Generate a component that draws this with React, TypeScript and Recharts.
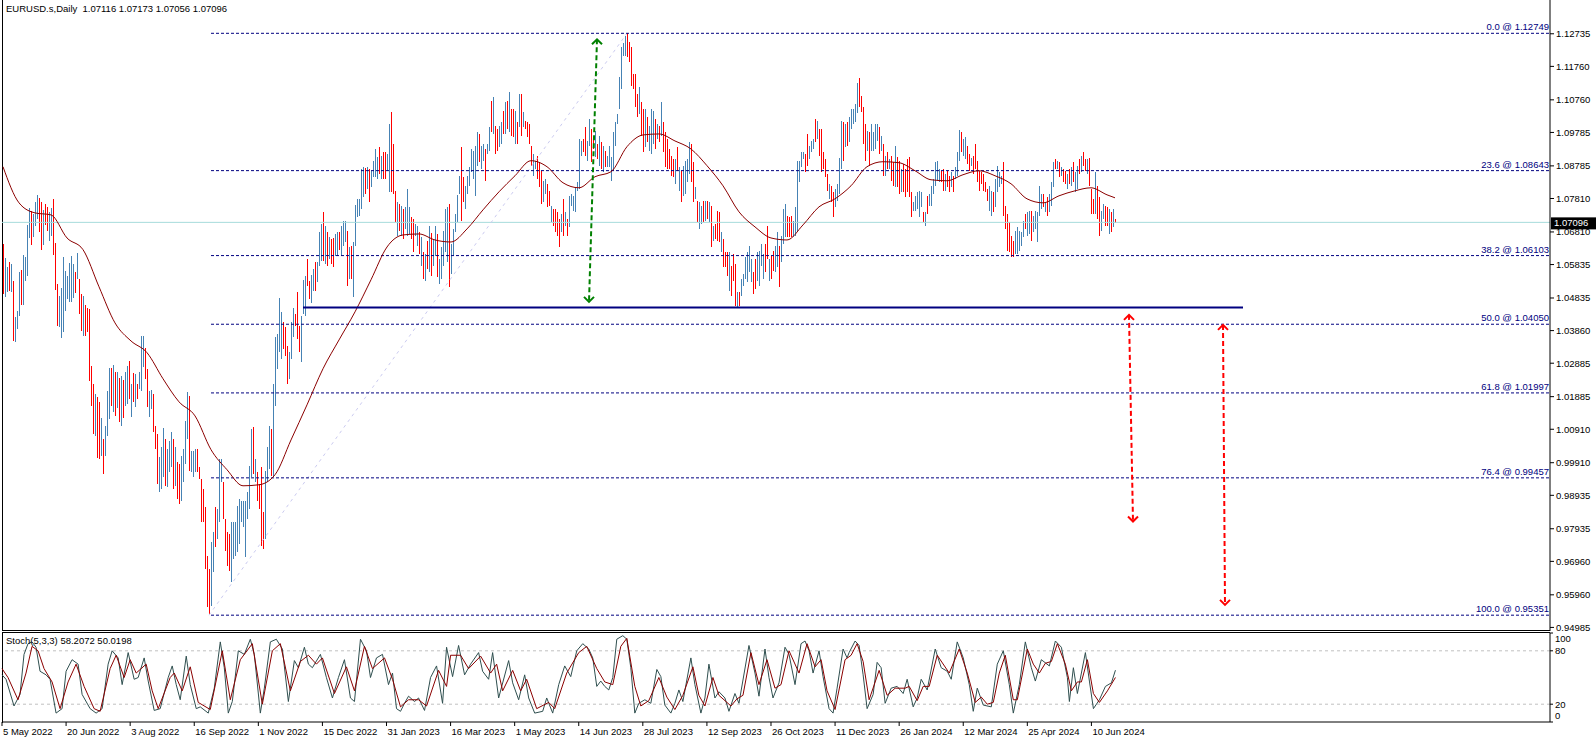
import { ComposedChart, Bar, Line, XAxis, YAxis, ReferenceLine, ReferenceDot } from 'recharts';

// price bars, in pips (price * 10000), one per trading day from 5 May 2022
const highPips = [
  10642, 10601, 10574, 10589, 10583, 10532, 10424, 10442, 10559, 10565,
  10610, 10604, 10699, 10750, 10741, 10732, 10768, 10789, 10780, 10768,
  10744, 10762, 10753, 10738, 10750, 10777, 10645, 10523, 10487, 10511,
  10604, 10562, 10547, 10586, 10607, 10583, 10559, 10616, 10538, 10493,
  10487, 10460, 10451, 10448, 10278, 10224, 10194, 10185, 10170, 10122,
  10059, 10098, 10203, 10272, 10272, 10281, 10260, 10260, 10242, 10248,
  10236, 10260, 10278, 10293, 10224, 10257, 10254, 10224, 10260, 10367,
  10367, 10331, 10269, 10203, 10206, 10194, 10098, 10074, 10006, 10035,
  10092, 10059, 10030, 10053, 10080, 10059, 10035, 9991, 9985, 10009,
  10030, 10113, 10200, 10188, 10024, 10024, 10030, 10030, 9976, 9940,
  9910, 9856, 9710, 9671, 9752, 9782, 9856, 9850, 10000, 10000,
  9931, 9820, 9782, 9776, 9811, 9811, 9811, 9859, 9880, 9874,
  9874, 9874, 9901, 9979, 10089, 10095, 10000, 9961, 9925, 9976,
  9841, 9964, 10035, 10098, 10089, 10224, 10364, 10373, 10481, 10439,
  10409, 10394, 10338, 10320, 10409, 10451, 10433, 10499, 10397, 10427,
  10535, 10547, 10598, 10532, 10550, 10568, 10589, 10589, 10678, 10702,
  10738, 10696, 10678, 10663, 10657, 10660, 10672, 10678, 10678, 10696,
  10711, 10711, 10681, 10633, 10636, 10648, 10759, 10777, 10777, 10867,
  10873, 10870, 10873, 10867, 10861, 10891, 10927, 10903, 10933, 10906,
  10918, 10918, 10912, 11001, 11037, 10941, 10801, 10768, 10762, 10756,
  10747, 10753, 10807, 10753, 10723, 10717, 10702, 10696, 10678, 10663,
  10619, 10613, 10651, 10696, 10675, 10657, 10696, 10672, 10598, 10633,
  10681, 10747, 10753, 10762, 10642, 10687, 10732, 10789, 10846, 10933,
  10843, 10816, 10846, 10873, 10927, 10921, 10936, 10979, 10972, 10936,
  10942, 10927, 10942, 10992, 11070, 11082, 10995, 10986, 10995, 11007,
  11040, 11067, 11070, 11097, 11046, 11046, 11040, 11007, 11091, 11091,
  11037, 11010, 11007, 11001, 10936, 10912, 10891, 10906, 10888, 10861,
  10831, 10837, 10822, 10801, 10756, 10747, 10747, 10738, 10717, 10732,
  10777, 10738, 10717, 10786, 10792, 10786, 10813, 10828, 10956, 10950,
  10956, 10992, 10950, 11016, 10986, 10956, 10980, 10942, 10966, 10948,
  10936, 10921, 10906, 10936, 10903, 10977, 11007, 11031, 11142, 11231,
  11243, 11264, 11275, 11246, 11231, 11151, 11151, 11091, 11112, 11067,
  11046, 11046, 11022, 10995, 11046, 11040, 11016, 11001, 10995, 11067,
  11007, 10977, 10956, 10927, 10906, 10897, 10897, 10933, 10873, 10861,
  10876, 10891, 10897, 10948, 10942, 10888, 10813, 10771, 10768, 10756,
  10771, 10771, 10771, 10768, 10756, 10696, 10702, 10741, 10738, 10678,
  10657, 10619, 10619, 10619, 10577, 10613, 10583, 10499, 10499, 10538,
  10553, 10604, 10619, 10636, 10598, 10559, 10598, 10619, 10622, 10642,
  10613, 10642, 10696, 10598, 10607, 10622, 10636, 10678, 10636, 10666,
  10747, 10762, 10726, 10723, 10726, 10711, 10753, 10891, 10891, 10918,
  10918, 10912, 10972, 10936, 10950, 10956, 11016, 11010, 10986, 10986,
  10918, 10897, 10852, 10822, 10816, 10798, 10807, 10822, 10900, 11010,
  11007, 11001, 11007, 11022, 11046, 11046, 11061, 11126, 11141, 11085,
  11052, 11001, 10980, 10977, 11001, 10977, 11001, 11001, 10992, 10966,
  10942, 10906, 10918, 10897, 10906, 10888, 10936, 10903, 10891, 10867,
  10882, 10867, 10897, 10903, 10798, 10768, 10786, 10798, 10801, 10798,
  10738, 10738, 10786, 10792, 10816, 10837, 10888, 10891, 10867, 10861,
  10867, 10852, 10861, 10846, 10858, 10846, 10873, 10918, 10983, 10977,
  10956, 10962, 10936, 10912, 10900, 10906, 10942, 10891, 10861, 10858,
  10852, 10828, 10807, 10816, 10801, 10798, 10837, 10876, 10858, 10846,
  10888, 10756, 10732, 10708, 10666, 10651, 10681, 10693, 10681, 10678,
  10711, 10732, 10738, 10741, 10741, 10726, 10741, 10738, 10816, 10792,
  10792, 10768, 10783, 10792, 10828, 10888, 10897, 10891, 10888, 10873,
  10867, 10861, 10852, 10867, 10873, 10888, 10858, 10876, 10897, 10906,
  10918, 10897, 10897, 10900, 10807, 10777, 10858, 10816, 10783, 10741,
  10762, 10756, 10753, 10747, 10738, 10747, 10717,
];

const lowPips = [
  10493, 10484, 10499, 10502, 10499, 10352, 10349, 10388, 10427, 10460,
  10460, 10532, 10547, 10660, 10640, 10663, 10696, 10717, 10678, 10625,
  10640, 10699, 10681, 10651, 10666, 10610, 10505, 10397, 10394, 10361,
  10379, 10442, 10478, 10469, 10469, 10481, 10496, 10538, 10433, 10382,
  10367, 10367, 10379, 10233, 10158, 10074, 10068, 10003, 10000, 10009,
  9955, 10009, 10068, 10119, 10158, 10140, 10128, 10152, 10110, 10098,
  10122, 10158, 10164, 10179, 10125, 10170, 10155, 10179, 10209, 10203,
  10275, 10239, 10155, 10125, 10149, 10080, 10030, 9925, 9901, 9910,
  9946, 9919, 9916, 9961, 9976, 9910, 9919, 9880, 9865, 9874,
  9931, 9985, 10059, 9964, 9961, 9946, 9961, 9961, 9940, 9811,
  9811, 9671, 9557, 9535, 9560, 9662, 9737, 9760, 9811, 9931,
  9820, 9725, 9680, 9665, 9632, 9701, 9710, 9722, 9746, 9811,
  9796, 9707, 9820, 9850, 9946, 9955, 9931, 9874, 9850, 9740,
  9731, 9760, 9931, 9970, 9949, 9949, 10158, 10269, 10320, 10299,
  10329, 10308, 10224, 10239, 10299, 10364, 10397, 10358, 10320, 10290,
  10433, 10427, 10517, 10478, 10466, 10502, 10502, 10529, 10577, 10592,
  10592, 10583, 10577, 10598, 10583, 10574, 10607, 10607, 10625, 10607,
  10636, 10648, 10517, 10538, 10538, 10484, 10636, 10723, 10726, 10747,
  10783, 10792, 10807, 10768, 10813, 10843, 10843, 10837, 10852, 10837,
  10837, 10837, 10861, 10797, 10797, 10792, 10708, 10666, 10681, 10666,
  10657, 10687, 10666, 10672, 10657, 10619, 10666, 10636, 10613, 10577,
  10538, 10532, 10568, 10559, 10547, 10577, 10607, 10544, 10523, 10538,
  10577, 10619, 10589, 10514, 10553, 10607, 10678, 10708, 10792, 10711,
  10768, 10747, 10792, 10816, 10858, 10837, 10786, 10876, 10888, 10867,
  10891, 10831, 10912, 10921, 10977, 10972, 10912, 10921, 10933, 10942,
  10972, 10972, 10986, 10977, 10966, 10963, 10942, 10942, 10992, 10966,
  10992, 10986, 10963, 10942, 10876, 10846, 10867, 10837, 10813, 10762,
  10768, 10792, 10753, 10756, 10708, 10696, 10678, 10666, 10633, 10678,
  10666, 10696, 10666, 10693, 10756, 10741, 10738, 10801, 10807, 10906,
  10918, 10906, 10891, 10936, 10888, 10927, 10903, 10897, 10876, 10867,
  10858, 10873, 10873, 10873, 10831, 10861, 10936, 11001, 11046, 11106,
  11204, 11204, 11204, 11186, 11115, 11106, 11052, 11022, 11031, 10966,
  10918, 10933, 10948, 10921, 10912, 10942, 10927, 10956, 10948, 10966,
  10918, 10873, 10867, 10867, 10846, 10843, 10822, 10861, 10801, 10768,
  10786, 10792, 10828, 10852, 10828, 10768, 10777, 10708, 10687, 10702,
  10708, 10711, 10717, 10708, 10633, 10651, 10657, 10651, 10648, 10619,
  10574, 10574, 10547, 10502, 10487, 10532, 10457, 10451, 10457, 10487,
  10517, 10538, 10529, 10559, 10529, 10493, 10508, 10532, 10517, 10577,
  10538, 10559, 10598, 10532, 10538, 10562, 10559, 10574, 10514, 10589,
  10642, 10663, 10663, 10663, 10663, 10663, 10666, 10681, 10828, 10873,
  10897, 10858, 10876, 10897, 10918, 10927, 10948, 10956, 10906, 10858,
  10867, 10843, 10801, 10777, 10768, 10723, 10753, 10771, 10792, 10867,
  10891, 10933, 10936, 10948, 10986, 11001, 11007, 11037, 11055, 11037,
  10942, 10891, 10921, 10876, 10921, 10921, 10927, 10950, 10912, 10921,
  10846, 10846, 10867, 10867, 10831, 10816, 10813, 10813, 10792, 10798,
  10798, 10783, 10798, 10783, 10723, 10741, 10741, 10747, 10723, 10753,
  10708, 10696, 10732, 10756, 10756, 10792, 10816, 10831, 10828, 10828,
  10801, 10801, 10813, 10798, 10813, 10798, 10837, 10846, 10891, 10918,
  10906, 10897, 10882, 10861, 10876, 10852, 10867, 10828, 10801, 10822,
  10801, 10798, 10771, 10741, 10726, 10738, 10753, 10798, 10813, 10822,
  10726, 10687, 10622, 10619, 10604, 10604, 10613, 10613, 10622, 10636,
  10663, 10687, 10666, 10672, 10651, 10678, 10687, 10648, 10726, 10747,
  10753, 10738, 10726, 10738, 10756, 10813, 10867, 10867, 10843, 10846,
  10828, 10822, 10807, 10822, 10816, 10828, 10798, 10807, 10852, 10858,
  10876, 10861, 10852, 10816, 10732, 10732, 10732, 10717, 10666, 10681,
  10717, 10696, 10696, 10672, 10678, 10693, 10706,
];

// u = up bar (blue), d = down bar (red)
const barDir = `
  d u u d u d u u u d   u u u u d u u u d d   u d d u u d d d u u   u u u u u u d u d d
  u d d d d d u d d u   d u u u d u d u d u   d u u d u d u d u u   u d d u u d d d u u
  u d u u u d u d d u   u u u d u u u d d d   d d d d u u d u u u   d d d d u u u u u u
  u u u u u d u d d d   d u u u d u u u u u   d d d u u u d d d u   u u d d u u d u u u
  d u d u d d u u d u   u u d u d u u u u u   u d u d u u u u d u   d d u u d d d u d u
  d u u u d d u u d u   d u d u d u u d u u   u u u d u u u u u d   d u u u u u u u d u
  u d u u d u d d u u   d u d u d d u d u d   u d d d d u u d d d   u u d d u d d d d u
  d u d u u u u u u u   d d u u d d u d u d   u d u u u u u u u u   u u d d d d d d u d
  d u d u u u d u d u   d d d d d d u d u d   u u u u d d u d u u   d u d u d u d d d u
  d d d u d d d u d u   u u u u u d d u u u   u d d u d d u u d u   u u d d d u u u u u
  u d d u u u d u d d   d d d u d d u u u u   d u d u u u u u d d   d d u d u u u u d u
  d u d u d d u d d u   d d d d d u u u u u   d u d u u u u u u d   d u d d u d u u u d
  u u d d u d d d d d   d d d u u d u u u u   d d d d d d u u u u   u d u u d u u u u u
  d u d u u u d u d u   d d u d u d u u d u   d d u d d d u d d u   u d d u d u d
`.replace(/\s/g, '');

// 34-day moving average, read every 8 bars
const maPoints = [
  [0, 10876], [8, 10768], [16, 10738], [24, 10732], [32, 10663], [40, 10628], [48, 10517], [56, 10409],
  [64, 10355], [72, 10320], [80, 10242], [88, 10173], [96, 10131], [104, 10030], [112, 9970], [120, 9922],
  [128, 9925], [136, 9955], [144, 10059], [152, 10164], [160, 10272], [168, 10358], [176, 10442], [184, 10538],
  [192, 10636], [200, 10672], [208, 10675], [216, 10657], [224, 10651], [232, 10690], [240, 10747], [248, 10801],
  [256, 10849], [264, 10894], [272, 10876], [280, 10828], [288, 10813], [296, 10846], [304, 10861], [312, 10936],
  [320, 10971], [328, 10974], [336, 10953], [344, 10929], [352, 10879], [360, 10819], [368, 10741], [376, 10696],
  [384, 10663], [392, 10657], [400, 10702], [408, 10756], [416, 10780], [424, 10819], [432, 10876], [440, 10891],
  [448, 10888], [456, 10864], [464, 10837], [472, 10834], [480, 10852], [488, 10864], [496, 10849], [504, 10825],
  [512, 10780], [520, 10768], [528, 10789], [536, 10804], [544, 10813], [552, 10792], [556, 10783],
];

// Stoch(5,3,3) main line, turning points [bar, value]
const stochMain = [
  [0, 53], [2, 48], [6, 18], [9, 31], [11, 76], [13, 88], [15, 90], [17, 84], [19, 57], [22, 53], [24, 48],
  [27, 10], [30, 15], [32, 57], [35, 70], [38, 65], [40, 31], [44, 15], [47, 10], [50, 15], [53, 65], [55, 80],
  [58, 72], [60, 42], [63, 78], [66, 48], [68, 50], [71, 72], [73, 46], [76, 13], [79, 15], [83, 50], [85, 63],
  [87, 42], [89, 25], [92, 74], [94, 42], [97, 15], [99, 17], [103, 10], [106, 38], [109, 90], [111, 61],
  [113, 10], [115, 23], [118, 80], [121, 76], [124, 93], [126, 76], [129, 10], [131, 38], [134, 90], [137, 93],
  [140, 82], [143, 23], [146, 69], [148, 61], [151, 84], [153, 65], [155, 61], [159, 76], [162, 50], [165, 27],
  [168, 50], [171, 70], [174, 27], [176, 23], [179, 93], [182, 80], [184, 50], [187, 72], [190, 76], [193, 42],
  [195, 55], [197, 15], [199, 12], [201, 21], [203, 29], [206, 23], [208, 27], [211, 13], [214, 50], [217, 63],
  [220, 21], [222, 84], [225, 51], [228, 86], [231, 53], [234, 65], [238, 78], [240, 57], [243, 48], [245, 78],
  [248, 27], [253, 69], [255, 44], [258, 25], [261, 53], [263, 27], [266, 10], [270, 12], [272, 27], [275, 10],
  [278, 42], [281, 63], [284, 51], [287, 80], [290, 88], [293, 82], [295, 72], [297, 40], [299, 46], [301, 40],
  [303, 36], [305, 50], [307, 93], [310, 97], [312, 93], [314, 61], [316, 10], [318, 21], [321, 25], [324, 21],
  [327, 59], [329, 51], [331, 19], [334, 10], [336, 21], [338, 36], [340, 23], [344, 72], [346, 42], [349, 10],
  [351, 27], [353, 65], [356, 27], [358, 34], [361, 27], [363, 12], [366, 32], [368, 21], [373, 86], [376, 55],
  [378, 29], [381, 82], [383, 50], [385, 27], [388, 44], [391, 84], [393, 76], [396, 42], [399, 88], [401, 91],
  [403, 80], [405, 55], [408, 80], [410, 51], [413, 15], [415, 10], [417, 38], [420, 82], [422, 72], [423, 78],
  [426, 91], [428, 86], [430, 53], [432, 15], [435, 31], [437, 67], [439, 61], [441, 21], [444, 38], [447, 40],
  [450, 32], [452, 48], [455, 17], [457, 27], [459, 48], [462, 36], [466, 82], [469, 61], [472, 57], [474, 48],
  [477, 90], [480, 72], [483, 42], [485, 12], [487, 38], [490, 19], [494, 17], [497, 65], [500, 80], [503, 42],
  [505, 10], [508, 42], [511, 90], [514, 61], [516, 46], [519, 70], [523, 63], [526, 91], [529, 84], [532, 50],
  [533, 23], [535, 61], [537, 32], [541, 78], [543, 46], [545, 15], [548, 25], [551, 40], [554, 44], [556, 58.2],
];

// signal line, turning points [bar, value]
const stochSignal = [
  [0, 60], [3, 50], [8, 25], [12, 55], [15, 85], [18, 80], [21, 60], [25, 45], [29, 15], [33, 45], [37, 65],
  [41, 40], [46, 15], [49, 12], [54, 60], [57, 75], [61, 50], [64, 70], [67, 55], [72, 65], [75, 35], [78, 15],
  [84, 50], [86, 55], [90, 35], [94, 62], [98, 22], [104, 14], [110, 80], [114, 25], [119, 70], [125, 88],
  [130, 20], [135, 80], [139, 88], [144, 35], [149, 68], [153, 75], [157, 65], [160, 72], [166, 32], [172, 62],
  [176, 35], [181, 85], [185, 60], [191, 72], [195, 48], [199, 17], [203, 25], [208, 25], [212, 18], [218, 58],
  [222, 40], [224, 75], [229, 75], [233, 60], [239, 74], [244, 55], [247, 65], [250, 35], [255, 58], [259, 35],
  [262, 48], [267, 15], [273, 22], [276, 15], [282, 55], [288, 78], [292, 85], [297, 60], [301, 45], [305, 42],
  [309, 85], [312, 94], [316, 40], [319, 18], [323, 24], [328, 50], [332, 28], [336, 14], [340, 30], [345, 62],
  [348, 30], [351, 18], [355, 50], [358, 30], [364, 18], [367, 26], [370, 30], [374, 78], [378, 42], [382, 70],
  [386, 38], [389, 42], [393, 80], [398, 55], [402, 88], [406, 62], [409, 70], [412, 35], [416, 14], [421, 70],
  [424, 75], [427, 88], [430, 68], [433, 25], [438, 58], [442, 30], [446, 38], [451, 38], [453, 40], [457, 24],
  [460, 40], [463, 40], [467, 75], [473, 55], [478, 82], [482, 55], [486, 22], [489, 28], [492, 20], [495, 22],
  [498, 55], [501, 75], [505, 25], [507, 25], [512, 82], [515, 65], [518, 55], [521, 66], [524, 68], [527, 88],
  [531, 65], [534, 35], [537, 45], [539, 45], [542, 70], [545, 32], [548, 22], [552, 35], [556, 50.02],
];

const dateLabels = [
  '5 May 2022', '20 Jun 2022', '3 Aug 2022', '16 Sep 2022', '1 Nov 2022', '15 Dec 2022',
  '31 Jan 2023', '16 Mar 2023', '1 May 2023', '14 Jun 2023', '28 Jul 2023', '12 Sep 2023',
  '26 Oct 2023', '11 Dec 2023', '26 Jan 2024', '12 Mar 2024', '25 Apr 2024', '10 Jun 2024',
];

const priceTicks = [
  1.12735, 1.1176, 1.1076, 1.09785, 1.08785, 1.0781, 1.0681, 1.05835, 1.04835, 1.0386,
  1.02885, 1.01885, 1.0091, 0.9991, 0.98935, 0.97935, 0.9696, 0.9596, 0.94985,
];

const stochTicks = [0, 20, 80, 100];

const fibNames = ['0.0', '23.6', '38.2', '50.0', '61.8', '76.4', '100.0'];
const fibPrices = [1.12749, 1.08643, 1.06103, 1.0405, 1.01997, 0.99457, 0.95351];

const lastPrice = 1.07096;
const supportPrice = 1.0455;

const FONT = '"Liberation Sans", Arial, sans-serif';
const FS = 9.5;
const BLUE = '#4682B4';
const RED = '#FF0000';
const NAVY = '#000080';
const SLOTS = 774; // bars plus empty space to the right
const LABEL_STEP = 32;
const FIB_FROM = 104;

const rows = Array.from({ length: SLOTS }, (_, i) => ({
  i,
  range: i < highPips.length ? [lowPips[i] / 10000, highPips[i] / 10000] : null,
  up: barDir[i] === 'u',
  ma: null as number | null,
  k: null as number | null,
  d: null as number | null,
}));
maPoints.forEach(([i, v]) => { rows[i].ma = v / 10000; });
stochMain.forEach(([i, v]) => { rows[i].k = v; });
stochSignal.forEach(([i, v]) => { rows[i].d = v; });

const labelIdx = dateLabels.map((_, n) => n * LABEL_STEP);

const PriceBar = (props: any) => {
  const { x, y, width, height, payload } = props;
  if (!payload || payload.range == null) return null;
  return (
    <rect
      x={Math.floor(x + width / 2)}
      y={Math.floor(y)}
      width={1}
      height={Math.max(1, Math.round(height))}
      fill={payload.up ? BLUE : RED}
    />
  );
};

const chevron = (color: string, up: boolean) => (p: any) => {
  const dy = up ? 5 : -5;
  return (
    <path
      d={`M${p.cx - 5},${p.cy + dy}L${p.cx},${p.cy}L${p.cx + 5},${p.cy + dy}`}
      stroke={color}
      strokeWidth={2}
      fill="none"
    />
  );
};

const fibLabel = (text: string) => (p: any) => {
  const vb = p.viewBox;
  return (
    <text x={vb.x + vb.width} y={vb.y - 3} textAnchor="end" fontSize={FS} fontFamily={FONT} fill={NAVY}>
      {text}
    </text>
  );
};

const priceTag = (p: any) => {
  const vb = p.viewBox;
  const x = vb.x + vb.width + 1;
  return (
    <g>
      <rect x={x} y={vb.y - 5} width={46} height={12} fill="#000" />
      <text x={x + 3} y={vb.y + 4} fontSize={FS} fontFamily={FONT} fill="#fff">
        {lastPrice.toFixed(5)}
      </text>
    </g>
  );
};

const DateTick = ({ x, y, payload }: any) => (
  <text x={x + 1} y={y} dy="0.71em" textAnchor="start" fontSize={FS} fontFamily={FONT} fill="#000">
    {dateLabels[payload.value / LABEL_STEP]}
  </text>
);

// the stochastic scale keeps its end labels inside the panel
const StochTick = ({ x, y, payload }: any) => (
  <text x={x} y={Math.min(Math.max(y, 7), 84)} dy="0.355em" fontSize={FS} fontFamily={FONT} fill="#000">
    {payload.value}
  </text>
);

const arrows = [
  { color: '#008000', top: [297, 1.1257], bottom: [293, 1.0472] },
  { color: RED, top: [563, 1.0433], bottom: [565, 0.9815] },
  { color: RED, top: [610, 1.0403], bottom: [611, 0.9566] },
];

export default function App() {
  return (
    <div style={{ position: 'absolute', left: 0, top: 0, width: 1596, height: 743, background: '#fff', overflow: 'hidden', fontFamily: FONT }}>
      <div style={{ position: 'absolute', left: 2, top: 0, width: 1548, height: 631, borderLeft: '1px solid #000', borderBottom: '1px solid #000', boxSizing: 'border-box' }} />
      <div style={{ position: 'absolute', left: 2, top: 632, width: 1548, height: 91, borderLeft: '1px solid #000', borderTop: '1px solid #000', boxSizing: 'border-box' }} />

      <div style={{ position: 'absolute', left: 0, top: 0 }}>
        <ComposedChart width={1596} height={638} data={rows} margin={{ top: 0, right: 0, bottom: 7, left: 2 }}>
          <XAxis dataKey="i" type="category" hide />
          <YAxis
            orientation="right"
            width={46}
            domain={[0.94878, 1.13745]}
            allowDataOverflow
            ticks={priceTicks}
            interval={0}
            tickFormatter={(v: number) => v.toFixed(5)}
            tick={{ fontSize: FS, fill: '#000', fontFamily: FONT }}
            tickSize={4}
            tickLine={{ stroke: '#000' }}
            axisLine={{ stroke: '#000' }}
          />
          <ReferenceLine y={lastPrice} stroke="#A6DCDC" label={priceTag} />
          <ReferenceLine segment={[{ x: 103, y: fibPrices[6] }, { x: 312, y: fibPrices[0] }]} stroke="#CBCBF0" strokeDasharray="3 4" />
          {fibPrices.map((p, n) => (
            <ReferenceLine
              key={fibNames[n]}
              segment={[{ x: FIB_FROM, y: p }, { x: SLOTS - 1, y: p }]}
              stroke={NAVY}
              strokeDasharray="3 2"
              label={fibLabel(`${fibNames[n]} @ ${p.toFixed(5)}`)}
            />
          ))}
          <Bar dataKey="range" barSize={1} shape={PriceBar} isAnimationActive={false} />
          <Line dataKey="ma" type="monotone" stroke="#8B0000" strokeWidth={1} dot={false} connectNulls isAnimationActive={false} />
          <ReferenceLine segment={[{ x: 150, y: supportPrice }, { x: 620, y: supportPrice }]} stroke={NAVY} strokeWidth={2} />
          {arrows.map((a, n) => (
            <ReferenceLine
              key={`arrow-${n}`}
              segment={[{ x: a.top[0], y: a.top[1] }, { x: a.bottom[0], y: a.bottom[1] }]}
              stroke={a.color}
              strokeWidth={2}
              strokeDasharray="5 3"
            />
          ))}
          {arrows.map((a, n) => (
            <ReferenceDot key={`head-t-${n}`} x={a.top[0]} y={a.top[1]} r={5} shape={chevron(a.color, true)} />
          ))}
          {arrows.map((a, n) => (
            <ReferenceDot key={`head-b-${n}`} x={a.bottom[0]} y={a.bottom[1]} r={5} shape={chevron(a.color, false)} />
          ))}
        </ComposedChart>
      </div>

      <div style={{ position: 'absolute', left: 0, top: 632 }}>
        <ComposedChart width={1596} height={111} data={rows} margin={{ top: 1, right: 0, bottom: 0, left: 2 }}>
          <XAxis
            dataKey="i"
            type="category"
            ticks={labelIdx}
            interval={0}
            height={21}
            tickSize={4}
            tick={DateTick}
            tickLine={{ stroke: '#000' }}
            axisLine={{ stroke: '#000' }}
          />
          <YAxis
            orientation="right"
            width={46}
            domain={[0, 100]}
            ticks={stochTicks}
            interval={0}
            tick={StochTick}
            tickSize={3}
            tickLine={{ stroke: '#000' }}
            axisLine={{ stroke: '#000' }}
          />
          <ReferenceLine y={80} stroke="#C0C0C0" strokeDasharray="3 3" />
          <ReferenceLine y={20} stroke="#C0C0C0" strokeDasharray="3 3" />
          <Line dataKey="k" type="linear" stroke="#2F4F4F" strokeWidth={1} dot={false} connectNulls isAnimationActive={false} />
          <Line dataKey="d" type="linear" stroke="#8B0000" strokeWidth={1} dot={false} connectNulls isAnimationActive={false} />
        </ComposedChart>
      </div>

      <div style={{ position: 'absolute', left: 6, top: 3, fontSize: FS, lineHeight: '12px', color: '#000', whiteSpace: 'pre' }}>
        {'EURUSD.s,Daily  1.07116 1.07173 1.07056 1.07096'}
      </div>
      <div style={{ position: 'absolute', left: 6, top: 635, fontSize: FS, lineHeight: '12px', color: '#000', whiteSpace: 'pre' }}>
        {'Stoch(5,3,3) 58.2072 50.0198'}
      </div>
    </div>
  );
}
